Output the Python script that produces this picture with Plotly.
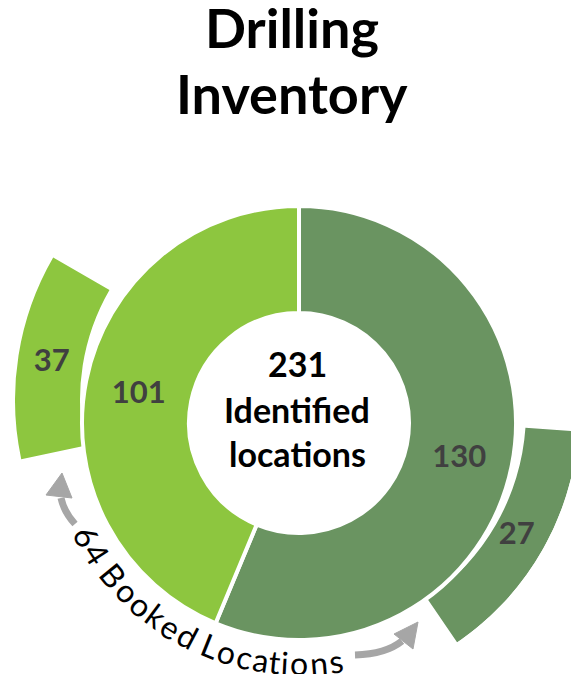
import math
import plotly.graph_objects as go

# reference picture size; the page body adds an 8px margin
W, H = 579, 674
OX, OY = 8, 8
FW, FH = W - OX, H - OY

# ---------------- data ----------------
title_lines = ["Drilling", "Inventory"]
inventory_labels = ["Group A", "Group B"]
inventory_values = [130, 101]
booked_values = [27, 37]          # booked part of Group A, Group B
center_lines = ["Identified", "locations"]
booked_caption = "Booked Locations"

# ---------------- styles ----------------
DARK = "#6A9461"
LIGHT = "#8DC63F"
LABEL = "#404040"
ARROW = "#A6A6A6"
FONT = "Lato"


def fx(p):
    return min(max((p - OX) / FW, 0.0), 1.0)


def fy(p):
    return min(max(1 - (p - OY) / FH, 0.0), 1.0)


def fyu(p):
    return 1 - (p - OY) / FH


def polar_domain(cx, cy, R, sector):
    s0, s1 = sector
    angs = [s0 + (s1 - s0) * k / 2000 for k in range(2001)]
    xs = [math.cos(math.radians(a)) for a in angs] + [0.0]
    ys = [math.sin(math.radians(a)) for a in angs] + [0.0]
    x0, x1, y0, y1 = min(xs), max(xs), min(ys), max(ys)
    return dict(x=[fx(cx + R * x0), fx(cx + R * x1)],
                y=[fy(cy - R * y0), fy(cy - R * y1)])


fig = go.Figure()

# ---------- inner donut ----------
cx0, cy0, R0 = 299, 423, 217
fig.add_trace(go.Pie(
    values=inventory_values, labels=inventory_labels, sort=False,
    direction="clockwise", rotation=0, hole=110 / 217,
    marker=dict(colors=[DARK, LIGHT], line=dict(color="white", width=4)),
    domain=dict(x=[fx(cx0 - R0), fx(cx0 + R0)], y=[fy(cy0 + R0), fy(cy0 - R0)]),
    texttemplate="%{value}", textposition="inside",
    insidetextorientation="horizontal",
    textfont=dict(family=FONT, size=31, color=LABEL, weight="bold"),
    hoverinfo="skip", showlegend=False,
))

# ---------- outer booked segments ----------
# polar 1 : light (37) segment
c1x, c1y, R1 = 300, 400, 287
sec1 = [146, 196]
fig.add_trace(go.Barpolar(
    theta=[279], width=[42], base=[220], r=[65],
    marker=dict(color=LIGHT, line=dict(width=0)),
    subplot="polar", hoverinfo="skip", showlegend=False,
))
fig.add_trace(go.Scatterpolar(
    theta=[278.5], r=[251], mode="text", text=[str(booked_values[1])],
    textfont=dict(family=FONT, size=31, color=LABEL, weight="bold"),
    subplot="polar", cliponaxis=False, hoverinfo="skip", showlegend=False,
))

# polar 2 : dark (27) segment
c2x, c2y, R2 = 300, 412, 279
sec2 = [-58, 0]
fig.add_trace(go.Barpolar(
    theta=[119.85], width=[51.7], base=[226], r=[53],
    marker=dict(color=DARK, line=dict(width=0)),
    subplot="polar2", hoverinfo="skip", showlegend=False,
))
fig.add_trace(go.Scatterpolar(
    theta=[119.9], r=[250], mode="text", text=[str(booked_values[0])],
    textfont=dict(family=FONT, size=31, color=LABEL, weight="bold"),
    subplot="polar2", cliponaxis=False, hoverinfo="skip", showlegend=False,
))

polar_common = dict(
    bgcolor="rgba(0,0,0,0)",
    angularaxis=dict(visible=False, rotation=90, direction="clockwise"),
)

# ---------- annotations ----------
ann = []
# title
ann.append(dict(x=fx(292), y=fy(28), text=title_lines[0], showarrow=False,
                xanchor="center", yanchor="middle",
                font=dict(family=FONT, size=54, color="black", weight="bold")))
ann.append(dict(x=fx(292), y=fy(94), text=title_lines[1], showarrow=False,
                xanchor="center", yanchor="middle",
                font=dict(family=FONT, size=54, color="black", weight="bold")))
# center text
center_all = [str(sum(inventory_values))] + center_lines
for txt, yy in zip(center_all, [363, 409, 453]):
    ann.append(dict(x=fx(297), y=fy(yy), text=txt, showarrow=False,
                    xanchor="center", yanchor="middle",
                    font=dict(family=FONT, size=34, color="black", weight="bold")))

# curved caption
caption = f"{sum(booked_values)} {booked_caption}"
cw = {"6": .58, "4": .58, " ": .2, "B": .64, "o": .57, "k": .52, "e": .53,
      "d": .58, "L": .48, "c": .47, "a": .51, "t": .35, "i": .24, "n": .57,
      "s": .43}
centers = []
acc = 0.0
for ch in caption:
    w = cw.get(ch, .5)
    centers.append(acc + w / 2)
    acc += w
a_start, a_end = 241.9, 171.2
tcx, tcy, tr = 299, 423, 240
for ch, c in zip(caption, centers):
    if ch == " ":
        continue
    t = (c - centers[0]) / (centers[-1] - centers[0])
    phi = a_start + (a_end - a_start) * t
    x = tcx + tr * math.sin(math.radians(phi))
    y = tcy - tr * math.cos(math.radians(phi))
    ann.append(dict(x=fx(x), y=fyu(y), text=ch, showarrow=False,
                    xanchor="center", yanchor="middle", textangle=phi - 180,
                    font=dict(family=FONT, size=32, color="black")))

# ---------- arrows (decoration) ----------
def P(x, y):
    return f"{fx(x)},{fyu(y)}"

shapes = [
    dict(type="path", xref="paper", yref="paper",
         path=f"M{P(75,524)} Q{P(64,512)} {P(61,498)}",
         line=dict(color=ARROW, width=7)),
    dict(type="path", xref="paper", yref="paper",
         path=f"M{P(46,495)} L{P(72,498)} L{P(62,473)} Z",
         fillcolor=ARROW, line=dict(color=ARROW, width=1)),
    dict(type="path", xref="paper", yref="paper",
         path=f"M{P(355,655)} Q{P(386,654)} {P(402,641)}",
         line=dict(color=ARROW, width=7)),
    dict(type="path", xref="paper", yref="paper",
         path=f"M{P(394,634)} L{P(413,649)} L{P(418,622)} Z",
         fillcolor=ARROW, line=dict(color=ARROW, width=1)),
]

fig.update_layout(
    width=FW, height=FH, autosize=False,
    margin=dict(l=0, r=0, t=0, b=0),
    paper_bgcolor="white", plot_bgcolor="white",
    showlegend=False,
    polar=dict(domain=polar_domain(c1x, c1y, R1, sec1), sector=sec1,
               radialaxis=dict(visible=False, range=[0, R1]), **polar_common),
    polar2=dict(domain=polar_domain(c2x, c2y, R2, sec2), sector=sec2,
                radialaxis=dict(visible=False, range=[0, R2]), **polar_common),
    annotations=ann,
    shapes=shapes,
)

fig.write_html("out.html")
